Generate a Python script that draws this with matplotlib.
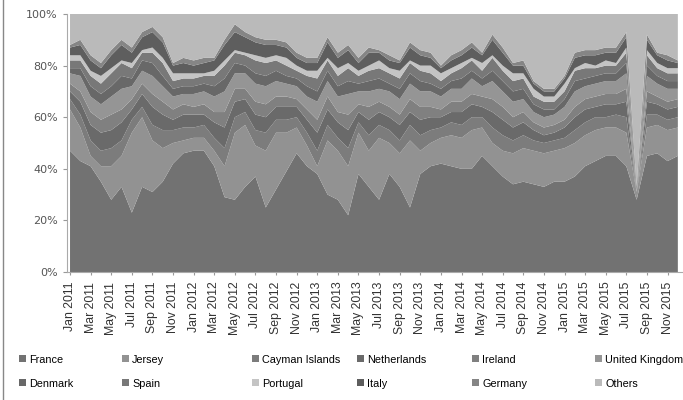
import numpy as np
import matplotlib
matplotlib.use('Agg')
import matplotlib.pyplot as plt
from matplotlib.ticker import PercentFormatter
from matplotlib.lines import Line2D

# meses Jan 2011 .. Dec 2015
meses = ['Jan', 'Feb', 'Mar', 'Apr', 'May', 'Jun', 'Jul', 'Aug', 'Sep', 'Oct', 'Nov', 'Dec']
labels = ['%s %d' % (m, y) for y in range(2011, 2016) for m in meses]

france = [47, 43, 41, 35, 28, 33, 23, 33, 31, 35, 42, 46, 47, 47, 41, 29, 28, 33, 37, 25,
          32, 39, 46, 41, 38, 30, 28, 22, 38, 33, 28, 38, 33, 25, 38, 41, 42, 41, 40, 40,
          45, 41, 37, 34, 35, 34, 33, 35, 35, 37, 41, 43, 45, 45, 41, 28, 45, 46, 43, 45]
jersey = [16, 13, 4, 6, 13, 12, 31, 27, 20, 13, 8, 5, 5, 5, 6, 12, 26, 24, 12, 22,
          22, 15, 10, 8, 3, 21, 19, 19, 16, 14, 24, 12, 13, 26, 9, 9, 10, 12, 12, 15,
          11, 9, 10, 12, 13, 13, 13, 12, 13, 13, 12, 12, 11, 11, 13, 3, 11, 11, 12, 11]
cayman = [4, 5, 6, 6, 7, 6, 5, 4, 6, 7, 5, 5, 4, 5, 5, 7, 6, 5, 6, 7,
          5, 5, 4, 5, 6, 6, 5, 7, 4, 6, 5, 5, 5, 6, 6, 5, 4, 5, 5, 5,
          4, 6, 6, 5, 5, 4, 4, 4, 4, 5, 5, 5, 4, 5, 6, 0, 5, 4, 4, 4]
netherlands = [3, 5, 6, 7, 7, 7, 4, 5, 7, 6, 4, 5, 5, 4, 6, 8, 6, 5, 6, 6,
               5, 5, 4, 5, 7, 6, 6, 7, 4, 6, 5, 5, 6, 5, 6, 5, 4, 4, 5, 5,
               4, 6, 6, 5, 5, 4, 3, 3, 4, 5, 5, 4, 5, 4, 6, 0, 5, 4, 4, 4]
ireland = [3, 4, 5, 5, 6, 5, 4, 4, 5, 5, 4, 4, 3, 4, 4, 6, 5, 4, 5, 5,
           4, 4, 3, 4, 5, 5, 4, 6, 3, 5, 4, 4, 4, 5, 5, 4, 3, 4, 4, 4,
           4, 5, 5, 4, 4, 3, 3, 3, 3, 4, 4, 4, 4, 4, 5, 0, 4, 3, 3, 3]
uk = [4, 6, 6, 6, 7, 8, 5, 5, 7, 6, 5, 4, 5, 5, 6, 8, 6, 6, 7, 7,
      6, 5, 5, 5, 7, 6, 6, 8, 5, 6, 5, 6, 6, 6, 6, 6, 5, 5, 5, 6,
      4, 7, 6, 6, 5, 4, 4, 4, 5, 6, 5, 5, 5, 5, 6, 1, 6, 5, 5, 4]
denmark = [2, 3, 4, 4, 4, 5, 3, 4, 5, 4, 3, 3, 3, 3, 4, 5, 4, 3, 4, 4,
           4, 3, 3, 4, 4, 4, 4, 5, 3, 4, 4, 3, 4, 4, 4, 3, 3, 3, 4, 3,
           3, 4, 4, 4, 4, 3, 3, 2, 3, 4, 3, 3, 3, 3, 4, 0, 4, 3, 3, 3]
spain = [3, 3, 4, 4, 5, 5, 4, 3, 4, 5, 3, 3, 3, 3, 4, 5, 4, 4, 5, 5,
         4, 4, 3, 4, 5, 4, 4, 5, 3, 4, 4, 4, 4, 4, 4, 4, 3, 3, 4, 4,
         3, 5, 4, 4, 4, 3, 3, 3, 3, 4, 4, 3, 3, 3, 4, 0, 4, 3, 3, 3]
portugal = [2, 2, 2, 3, 2, 1, 2, 1, 2, 2, 3, 2, 2, 1, 2, 2, 1, 1, 2, 2,
            2, 3, 2, 2, 3, 1, 3, 2, 2, 2, 3, 2, 3, 1, 2, 3, 3, 2, 2, 1,
            3, 1, 2, 3, 2, 3, 2, 2, 3, 1, 2, 1, 2, 1, 2, 0, 2, 2, 2, 2]
italy = [3, 4, 4, 3, 5, 6, 4, 5, 6, 6, 3, 4, 3, 4, 4, 6, 7, 6, 5, 5,
         4, 4, 3, 3, 3, 6, 4, 5, 3, 5, 3, 3, 3, 5, 4, 3, 2, 3, 3, 4,
         3, 6, 5, 3, 3, 2, 2, 2, 2, 4, 3, 4, 3, 4, 4, 1, 4, 3, 3, 2]
germany = [1, 2, 2, 2, 2, 2, 2, 2, 2, 2, 1, 2, 2, 2, 1, 2, 3, 2, 2, 2,
           2, 2, 2, 2, 2, 2, 2, 2, 2, 2, 1, 2, 1, 2, 2, 2, 1, 2, 2, 2,
           1, 2, 2, 1, 2, 1, 1, 1, 1, 2, 2, 2, 2, 2, 2, 0, 2, 1, 2, 1]
others = [12, 10, 16, 19, 14, 10, 13, 7, 5, 9, 19, 17, 18, 17, 17, 10, 4, 7, 9, 10,
          10, 11, 15, 17, 17, 9, 15, 12, 17, 13, 14, 16, 18, 11, 14, 15, 20, 16, 14, 11,
          15, 8, 13, 19, 18, 26, 29, 29, 24, 15, 14, 14, 13, 13, 7, 67, 8, 15, 16, 18]

paises = ['France', 'Jersey', 'Cayman Islands', 'Netherlands', 'Ireland', 'United Kingdom',
          'Denmark', 'Spain', 'Portugal', 'Italy', 'Germany', 'Others']
series = [france, jersey, cayman, netherlands, ireland, uk,
          denmark, spain, portugal, italy, germany, others]
grises = ['#727272', '#929292', '#7c7c7c', '#6a6a6a', '#808080', '#959595',
          '#686868', '#787878', '#c4c4c4', '#5e5e5e', '#858585', '#bababa']

datos = np.array(series, dtype=float)
datos = datos / datos.sum(axis=0) * 100   # area 100% apilada
x = np.arange(len(labels))

fig = plt.figure(figsize=(6.83, 4.0), dpi=100)
ax = fig.add_axes([0.098, 0.32, 0.902, 0.645])
polys = ax.stackplot(x, datos, colors=grises, labels=paises, linewidth=0)

ax.set_xlim(-0.3, 59.5)
ax.set_ylim(0, 100)
ax.yaxis.set_major_formatter(PercentFormatter(decimals=0))
ax.set_yticks(np.arange(0, 101, 20))
ax.set_xticks(x[::2])
ax.set_xticklabels(labels[::2], rotation=90, fontsize=8.8, color='#333333',
                   family='Liberation Sans')
ax.tick_params(axis='y', labelsize=8, labelcolor='#555555', length=3, color='#999999')
ax.tick_params(axis='x', length=2, color='#999999', pad=5)
for s in ['top', 'right']:
    ax.spines[s].set_visible(False)
ax.spines['left'].set_color('#aaaaaa')
ax.spines['bottom'].set_color('#aaaaaa')

# leyenda: una columna de dos entradas por cada posicion x (como en Excel)
col_x = [8, 111, 241, 346, 461, 584]
for c, xp in enumerate(col_x):
    idx = [c, c + 6]
    fig.legend([polys[i] for i in idx], [paises[i] for i in idx],
               loc='lower left', bbox_to_anchor=(xp / 683, 0.0), frameon=False,
               prop={'family': 'Liberation Sans', 'size': 7.8},
               handlelength=0.6, handleheight=0.6, handletextpad=0.3,
               labelspacing=1.3, borderpad=0.55)

# borde izquierdo del recorte
fig.add_artist(Line2D([0.005, 0.005], [0.0, 1.0], color='#888888', lw=1))

fig.savefig('out.png', dpi=100)
